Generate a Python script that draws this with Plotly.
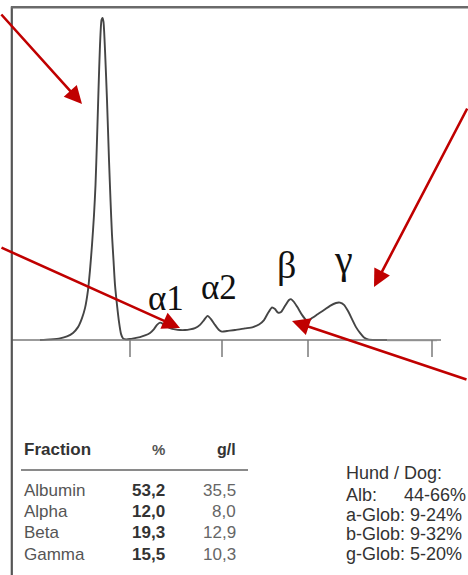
import plotly.graph_objects as go

W, H = 468, 575

# Densitometry curve: mobility position (arbitrary units) and relative intensity (% of albumin peak)
mobility = [40, 50, 60, 67, 73, 78, 82, 85, 88, 90, 92, 94, 95.5, 97, 98.5, 100, 101.5, 102.5,
            103.5, 105, 107, 109, 110.5, 112, 113.5, 115, 117, 119, 121, 123, 126, 130, 135, 140,
            145, 150, 154, 157, 160, 163, 166, 170, 175, 180, 185, 190, 195, 200, 204, 207.5, 211,
            215, 219, 222, 227, 235, 245, 253, 259, 264, 268, 272, 275, 278, 281, 285, 289, 291,
            294, 298, 302, 306, 308, 312, 318, 324, 330, 336, 340, 344, 348, 352, 356, 360, 364,
            368, 375, 387]
intensity = [0, 0.2, 0.5, 1.1, 2.2, 4.0, 6.8, 9.9, 15.5, 21.7, 29.5, 38.8, 48.1, 62.1, 77.6, 91.6,
             99.4, 100, 98.8, 90.1, 74.5, 55.9, 43.5, 32.6, 24.8, 17.1, 10.9, 5.6, 1.9, 0.5, 0.2,
             0.3, 0.6, 0.9, 1.4, 2.2, 3.4, 4.7, 5.4, 5.0, 4.3, 3.7, 3.3, 3.1, 3.1, 3.3, 3.7, 4.7,
             6.2, 7.5, 6.5, 4.7, 3.1, 2.6, 2.8, 3.1, 3.6, 4.0, 4.8, 6.2, 8.4, 10.1, 9.6, 8.5, 8.7,
             10.6, 12.4, 12.7, 11.8, 9.9, 7.8, 6.2, 5.9, 6.8, 8.1, 9.3, 10.6, 11.5, 11.6, 10.9, 9.0,
             6.5, 4.0, 2.2, 0.8, 0.2, 0, 0]
tail_mobility = [387, 437]
tail_intensity = [-0.25, -0.25]

# Fraction boundaries (tick marks under the baseline)
boundaries = [130, 222, 308, 432]

# Peak labels
peak_labels = ["α1", "α2", "β", "γ"]

# Result table
fractions = ["Albumin", "Alpha", "Beta", "Gamma"]
percent = ["53,2", "12,0", "19,3", "15,5"]
grams = ["35,5", "8,0", "12,9", "10,3"]

# Reference ranges
ref_title = "Hund / Dog:"
ref_names = ["Alb:", "a-Glob:", "b-Glob:", "g-Glob:"]
ref_ranges = ["44-66%", "9-24%", "9-32%", "5-20%"]

# ---- scale: pixel rows -> intensity units
BASE_PX, PEAK_PX = 340, 18
PX_PER_UNIT = (BASE_PX - PEAK_PX) / 100.0
y_top = BASE_PX / PX_PER_UNIT
y_bot = -(H - BASE_PX) / PX_PER_UNIT


def unit(px):
    return (BASE_PX - px) / PX_PER_UNIT


def px_paper(x, y):
    return x / W, 1 - y / H


fig = go.Figure()

fig.add_trace(go.Scatter(x=mobility, y=intensity, mode="lines",
                         line=dict(color="#454545", width=1.9, shape="spline", smoothing=0.6),
                         hoverinfo="skip", showlegend=False))
fig.add_trace(go.Scatter(x=tail_mobility, y=tail_intensity, mode="lines",
                         line=dict(color="#d4d4d4", width=1.5),
                         hoverinfo="skip", showlegend=False))

# boundary tick marks
tx, ty = [], []
for b in boundaries:
    tx += [b, b, None]
    ty += [0, unit(357), None]
fig.add_trace(go.Scatter(x=tx, y=ty, mode="lines", line=dict(color="#7a7a7a", width=1.5),
                         hoverinfo="skip", showlegend=False))

shapes = []
# baseline
shapes.append(dict(type="line", xref="x", yref="y", x0=11, x1=441, y0=0, y1=0,
                   line=dict(color="#7a7a7a", width=1.6)))
# frame: left and top
shapes.append(dict(type="line", xref="paper", yref="paper", x0=11.8 / W, x1=11.8 / W,
                   y0=0, y1=1 - 6.5 / H, line=dict(color="#555555", width=2.2)))
shapes.append(dict(type="line", xref="paper", yref="paper", x0=11 / W, x1=1,
                   y0=1 - 7.3 / H, y1=1 - 7.3 / H, line=dict(color="#6a6a6a", width=2.4)))
# table separator
shapes.append(dict(type="line", xref="paper", yref="paper", x0=21 / W, x1=248 / W,
                   y0=1 - 470 / H, y1=1 - 470 / H, line=dict(color="#8a8a8a", width=2)))

ann = []
# greek labels
label_pos = [(166, 298, 35), (219, 287, 35), (286, 265, 38), (343, 259, 40)]
for t, (x, y, s) in zip(peak_labels, label_pos):
    ann.append(dict(text=t, x=x, y=unit(y), xref="x", yref="y", showarrow=False,
                    xanchor="center", yanchor="middle",
                    font=dict(family="Liberation Serif", size=s, color="#111111")))

# arrows (tip position, tail position in px)
RED = "#c00000"
arrows = [((82, 104), (0, 13)), ((180, 328), (0, 247)), ((374, 287), (468, 107)),
          ((292, 321), (468, 380))]
for (tx_, ty_), (sx, sy) in arrows:
    ann.append(dict(text="", x=tx_, y=unit(ty_), xref="x", yref="y", showarrow=True,
                    ax=sx - tx_, ay=sy - ty_, axref="pixel", ayref="pixel",
                    arrowhead=2, arrowsize=1.35, arrowwidth=2.6, arrowcolor=RED, standoff=0))

SANS = "Liberation Sans"
# table header
hx, hy = px_paper(22, 449)
ann.append(dict(text="<b>Fraction</b>", x=hx, y=hy, xref="paper", yref="paper", showarrow=False,
                xanchor="left", yanchor="middle", font=dict(family=SANS, size=17, color="#333333")))
hx, hy = px_paper(167, 449)
ann.append(dict(text="<b>%</b>", x=hx, y=hy, xref="paper", yref="paper", showarrow=False,
                xanchor="right", yanchor="middle", font=dict(family=SANS, size=15, color="#555555")))
hx, hy = px_paper(238, 449)
ann.append(dict(text="<b>g/l</b>", x=hx, y=hy, xref="paper", yref="paper", showarrow=False,
                xanchor="right", yanchor="middle", font=dict(family=SANS, size=16, color="#333333")))

row_y = [490, 511, 532, 554]
for name, p, g, ry in zip(fractions, percent, grams, row_y):
    x0, y0 = px_paper(22, ry)
    ann.append(dict(text=name, x=x0, y=y0, xref="paper", yref="paper", showarrow=False,
                    xanchor="left", yanchor="middle", font=dict(family=SANS, size=17, color="#555555")))
    x1, _ = px_paper(167, ry)
    ann.append(dict(text="<b>" + p + "</b>", x=x1, y=y0, xref="paper", yref="paper", showarrow=False,
                    xanchor="right", yanchor="middle", font=dict(family=SANS, size=17, color="#333333")))
    x2, _ = px_paper(238, ry)
    ann.append(dict(text=g, x=x2, y=y0, xref="paper", yref="paper", showarrow=False,
                    xanchor="right", yanchor="middle", font=dict(family=SANS, size=17, color="#666666")))

# reference block
rx, ry0 = px_paper(344, 473)
ann.append(dict(text=ref_title, x=rx, y=ry0, xref="paper", yref="paper", showarrow=False,
                xanchor="left", yanchor="middle", font=dict(family=SANS, size=18, color="#333333")))
ref_y = [495, 515, 534, 554]
ref_x = [402, 408, 408, 408]
for n, r, yy, xx in zip(ref_names, ref_ranges, ref_y, ref_x):
    a, b = px_paper(344, yy)
    ann.append(dict(text=n, x=a, y=b, xref="paper", yref="paper", showarrow=False,
                    xanchor="left", yanchor="middle", font=dict(family=SANS, size=18, color="#333333")))
    a2, _ = px_paper(xx, yy)
    ann.append(dict(text=r, x=a2, y=b, xref="paper", yref="paper", showarrow=False,
                    xanchor="left", yanchor="middle", font=dict(family=SANS, size=18, color="#333333")))

fig.update_layout(
    width=W, height=H, margin=dict(l=0, r=0, t=0, b=0),
    paper_bgcolor="white", plot_bgcolor="white",
    xaxis=dict(range=[0, W], visible=False, domain=[0, 1], fixedrange=True),
    yaxis=dict(range=[y_bot, y_top], visible=False, domain=[0, 1], fixedrange=True),
    shapes=shapes, annotations=ann, showlegend=False,
)

fig.write_html("out.html", config={"displayModeBar": False},
               post_script="document.body.style.margin='0';document.body.style.overflow='hidden';")
